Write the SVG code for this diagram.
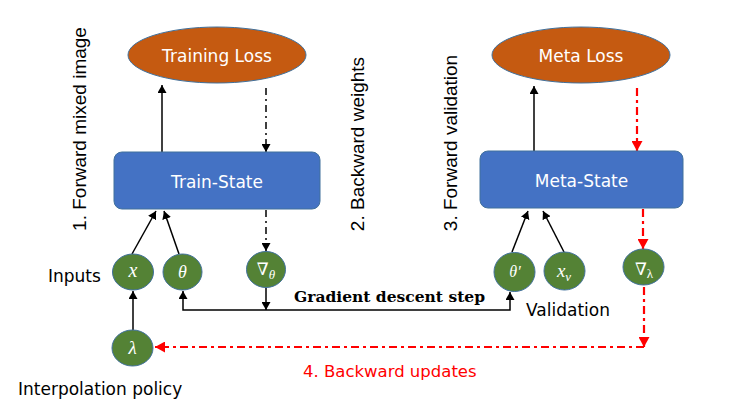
<svg xmlns="http://www.w3.org/2000/svg" width="747" height="415" viewBox="0 0 747 415">
<style>
.loss{fill:#C55A11;stroke:#41719C;stroke-width:1}
.state{fill:#4472C4;stroke:#41719C;stroke-width:1}
.var{fill:#548235;stroke:#41719C;stroke-width:1}
.nl{font-family:"DejaVu Sans",sans-serif;font-size:17px;fill:#fff;text-anchor:middle}
.lbl{font-family:"DejaVu Sans",sans-serif;font-size:17px;fill:#000}
.rot{font-family:"Liberation Sans",Arial,sans-serif;font-size:19px;fill:#000;text-anchor:middle}
.math{font-family:"Liberation Serif","DejaVu Serif",serif;font-style:italic;fill:#fff;text-anchor:middle}
.up{font-style:normal}
.solid{fill:none;stroke:#000;stroke-width:1.5}
.dd{fill:none;stroke:#000;stroke-width:1.5;stroke-dasharray:7 4 2 4}
.red{fill:none;stroke:#FF0000;stroke-width:2.2;stroke-dasharray:8 4 3 4}
</style>
<defs>
<marker id="ab" markerUnits="userSpaceOnUse" markerWidth="9" markerHeight="9" refX="8" refY="4.5" orient="auto"><path d="M0,0 L8,4.5 L0,9 z" fill="#000"/></marker>
<marker id="ar" markerUnits="userSpaceOnUse" markerWidth="11" markerHeight="11" refX="10" refY="5.5" orient="auto"><path d="M0,0 L10,5.5 L0,11 z" fill="#FF0000"/></marker>
</defs>
<rect width="747" height="415" fill="#fff"/>

<g id="connectors">
<path class="solid" d="M162,152 V85" marker-end="url(#ab)"/>
<path class="dd" d="M266,88 V152" marker-end="url(#ab)"/>
<path class="dd" d="M266,210 V251" marker-end="url(#ab)"/>
<path class="solid" d="M132,254 L156,211" marker-end="url(#ab)"/>
<path class="solid" d="M179,254 L164,211" marker-end="url(#ab)"/>
<path class="solid" d="M266,288 V310" marker-end="url(#ab)"/>
<path class="solid" d="M266,310 H183 V291" marker-end="url(#ab)"/>
<path class="solid" d="M266,310 H510 V292" marker-end="url(#ab)"/>
<path class="solid" d="M133,330 V291" marker-end="url(#ab)"/>
<path class="solid" d="M534,151 V86" marker-end="url(#ab)"/>
<path class="solid" d="M512,252 L528,211" marker-end="url(#ab)"/>
<path class="solid" d="M564,252 L543,211" marker-end="url(#ab)"/>
<path class="red" d="M637,88 V151" marker-end="url(#ar)"/>
<path class="red" d="M643,209 V249" marker-end="url(#ar)"/>
<path class="red" d="M644,287 V347" marker-end="url(#ar)"/>
<path class="red" d="M644,347 H155" marker-end="url(#ar)"/>
</g>

<g id="training-loss">
<ellipse class="loss" cx="217" cy="55" rx="89" ry="28"/>
<text class="nl" x="217" y="62">Training Loss</text>
</g>
<g id="train-state">
<rect class="state" x="114" y="152" width="206" height="57" rx="8"/>
<text class="nl" x="217" y="188">Train-State</text>
</g>
<g id="meta-loss">
<ellipse class="loss" cx="581" cy="55" rx="89" ry="28"/>
<text class="nl" x="581" y="62">Meta Loss</text>
</g>
<g id="meta-state">
<rect class="state" x="480" y="151" width="203" height="57" rx="8"/>
<text class="nl" x="581.5" y="187">Meta-State</text>
</g>

<g id="x">
<ellipse class="var" cx="133" cy="272" rx="20.5" ry="18"/>
<text class="math" x="133" y="277" font-size="20">x</text>
</g>
<g id="theta">
<ellipse class="var" cx="182.5" cy="272" rx="19.5" ry="18"/>
<text class="math" x="182.5" y="278" font-size="18">θ</text>
</g>
<g id="grad-theta">
<ellipse class="var" cx="266" cy="269.5" rx="19.5" ry="18"/>
<text class="math" x="266" y="275"><tspan class="up" font-size="17">∇</tspan><tspan font-size="13" dy="4">θ</tspan></text>
</g>
<g id="lambda">
<ellipse class="var" cx="132.5" cy="348" rx="20.5" ry="18"/>
<text class="math" x="132.5" y="354" font-size="19">λ</text>
</g>
<g id="theta-prime">
<ellipse class="var" cx="514.5" cy="272" rx="20.5" ry="19.5"/>
<text class="math" x="515" y="277" font-size="16">θ′</text>
</g>
<g id="x-v">
<ellipse class="var" cx="564.5" cy="271" rx="20.5" ry="19"/>
<text class="math" x="564" y="277"><tspan font-size="19">x</tspan><tspan font-size="13" dy="4">v</tspan></text>
</g>
<g id="grad-lambda">
<ellipse class="var" cx="643.5" cy="267" rx="20.5" ry="18"/>
<text class="math" x="644" y="275"><tspan class="up" font-size="17">∇</tspan><tspan class="up" font-size="13" dy="3">λ</tspan></text>
</g>

<g id="labels">
<text class="rot" transform="translate(86,129) rotate(-90)">1. Forward mixed image</text>
<text class="rot" transform="translate(364,144) rotate(-90)">2. Backward weights</text>
<text class="rot" transform="translate(457,143) rotate(-90)">3. Forward validation</text>
<text class="lbl" x="48" y="282">Inputs</text>
<text class="lbl" x="18" y="395">Interpolation policy</text>
<text class="lbl" x="526" y="316">Validation</text>
<text x="294" y="302" font-family="'DejaVu Serif',serif" font-weight="bold" font-size="15.5" fill="#000">Gradient descent step</text>
<text class="lbl" x="303" y="377" style="fill:#FF0000;font-size:16.5px">4. Backward updates</text>
</g>
</svg>
